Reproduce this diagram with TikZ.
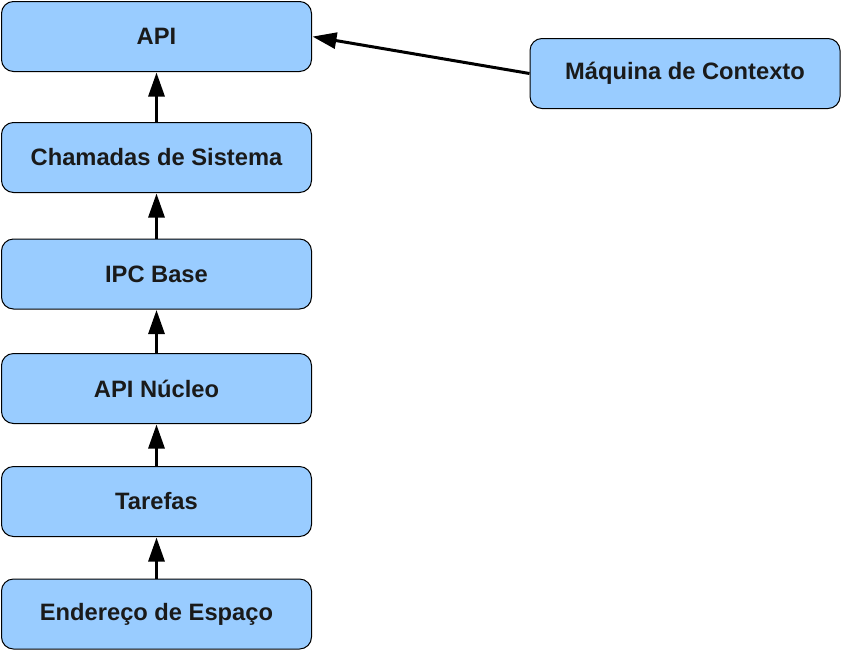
\documentclass[tikz,border=0pt]{standalone}
\usepackage{fontspec}
\setmainfont{Liberation Sans}
\usetikzlibrary{arrows.meta}
\definecolor{boxfill}{HTML}{99CCFF}
\definecolor{txt}{HTML}{1A1A1A}
\begin{document}
\begin{tikzpicture}[x=1pt,y=-1pt,
  blk/.style={draw=black, line width=1pt, fill=boxfill, rounded corners=12pt,
    minimum width=310pt, minimum height=70pt, inner sep=0pt,
    font=\fontsize{23.7}{27}\selectfont\bfseries, text=txt},
  conn/.style={line width=3pt, -{Triangle[length=24pt,width=16pt]}, shorten >=0.5pt}]
\useasboundingbox (0,0) rectangle (842,651);
\node[blk] (api) at (156.5,36.5) {API};
\node[blk] (cham) at (156.5,157.5) {Chamadas de Sistema};
\node[blk] (ipc) at (156.5,274) {IPC Base};
\node[blk] (nuc) at (156.5,388.5) {API Núcleo};
\node[blk] (tar) at (156.5,501.5) {Tarefas};
\node[blk] (end) at (156.5,614) {Endereço de Espaço};
\node[blk] (maq) at (685,73.5) {Máquina de Contexto};
\draw[conn] (cham.north) -- (api.south);
\draw[conn] (ipc.north) -- (cham.south);
\draw[conn] (nuc.north) -- (ipc.south);
\draw[conn] (tar.north) -- (nuc.south);
\draw[conn] (end.north) -- (tar.south);
\draw[conn] (maq.west) -- (api.east);
\end{tikzpicture}
\end{document}
